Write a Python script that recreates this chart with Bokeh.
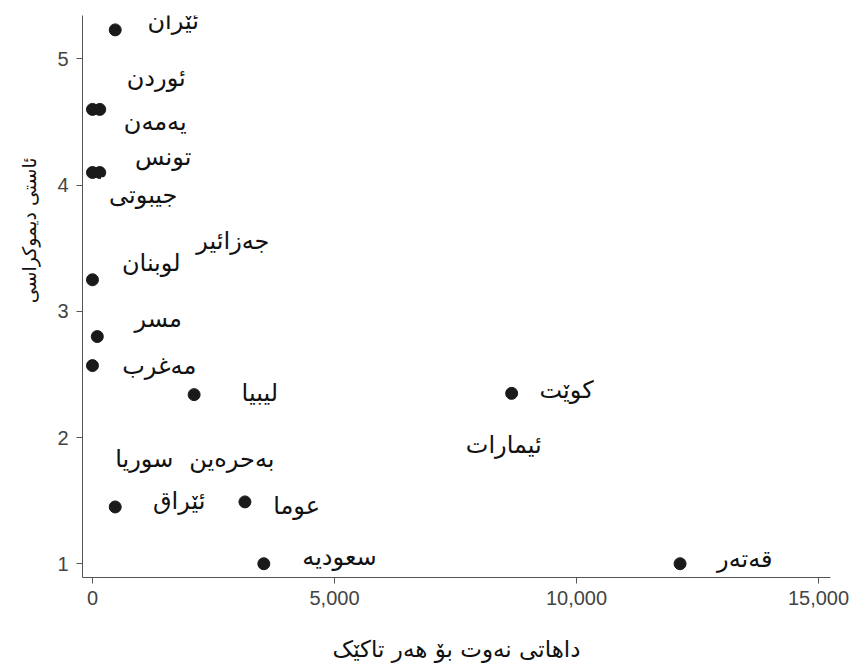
from bokeh.plotting import figure
from bokeh.models import Range1d, Title, NumeralTickFormatter, FixedTicker, ColumnDataSource
from bokeh.embed import file_html
from bokeh.resources import INLINE
from bokeh.core.properties import value

# --- data ---
countries = ["ئێران", "ئوردن", "یەمەن", "تونس", "جیبوتی", "جەزائیر", "لوبنان", "مسر",
             "مەغرب", "لیبیا", "کوێت", "ئیمارات", "بەحرەین", "سوریا", "ئێراق", "عوما",
             "سعودیە", "قەتەر"]
oil_income = [470, 0, 150, 150, 0, 2400, 0, 100,
              0, 2100, 8660, 8300, 2300, 900, 470, 3150,
              3540, 12140]
democracy = [5.23, 4.6, 4.6, 4.1, 4.1, 3.56, 3.25, 2.80,
             2.57, 2.34, 2.35, 1.94, 1.83, 1.83, 1.45, 1.49,
             1.0, 1.0]
# label placements (data coordinates, repelled like ggrepel)
label_x = [1667, 1317, 1296, 1461, 1049, 2901, 1214, 1358,
           1379, 3457, 9794, 8498, 2880, 1070, 1790, 4218,
           5103, 13477]
label_y = [5.30, 4.85, 4.50, 4.22, 3.92, 3.56, 3.38, 2.94,
           2.57, 2.35, 2.38, 1.94, 1.83, 1.83, 1.50, 1.46,
           1.05, 1.04]
x_ticks = [0, 5000, 10000, 15000]
y_ticks = [1, 2, 3, 4, 5]
x_title = "داهاتی نەوت بۆ هەر تاکێک"
y_title = "ئاستی دیموکراسی"

src = ColumnDataSource(dict(x=oil_income, y=democracy, lx=label_x, ly=label_y, name=countries))

p = figure(width=851, height=664, output_backend="svg", toolbar_location=None,
           x_range=Range1d(-206, 15248), y_range=Range1d(0.891, 5.344),
           min_border_left=80, min_border_right=21, min_border_top=15, min_border_bottom=79)

p.scatter("x", "y", source=src, size=12, color="#1a1a1a")
p.text("lx", "ly", text="name", source=src, text_align="center", text_baseline="middle",
       text_font=value("DejaVu Sans"), text_font_size="24px", text_color="#111111",
       background_fill_color="white", padding=(8, 4))

p.grid.visible = False
p.outline_line_color = None

for ax in (p.xaxis[0], p.yaxis[0]):
    ax.axis_line_color = "#555555"
    ax.major_tick_line_color = "#555555"
    ax.major_tick_out = 6
    ax.major_tick_in = 0
    ax.minor_tick_line_color = None
    ax.major_label_text_font = "Liberation Sans"
    ax.major_label_text_font_size = "20px"
    ax.major_label_text_color = "#444444"

p.xaxis[0].ticker = FixedTicker(ticks=x_ticks)
p.xaxis[0].formatter = NumeralTickFormatter(format="0,0")
p.xaxis[0].major_label_standoff = 7
p.xaxis[0].axis_label = x_title
p.xaxis[0].axis_label_text_font = "DejaVu Sans"
p.xaxis[0].axis_label_text_font_style = "normal"
p.xaxis[0].axis_label_text_font_size = "23px"
p.xaxis[0].axis_label_text_color = "#111111"
p.xaxis[0].axis_label_standoff = 28

p.yaxis[0].ticker = FixedTicker(ticks=y_ticks)
p.yaxis[0].major_label_standoff = 8

p.add_layout(Title(text=y_title, align="right", offset=142, text_font="DejaVu Sans",
                   text_font_size="19px", text_font_style="normal", text_color="#111111",
                   standoff=30), "left")

open("out.html", "w").write(file_html(p, INLINE))
